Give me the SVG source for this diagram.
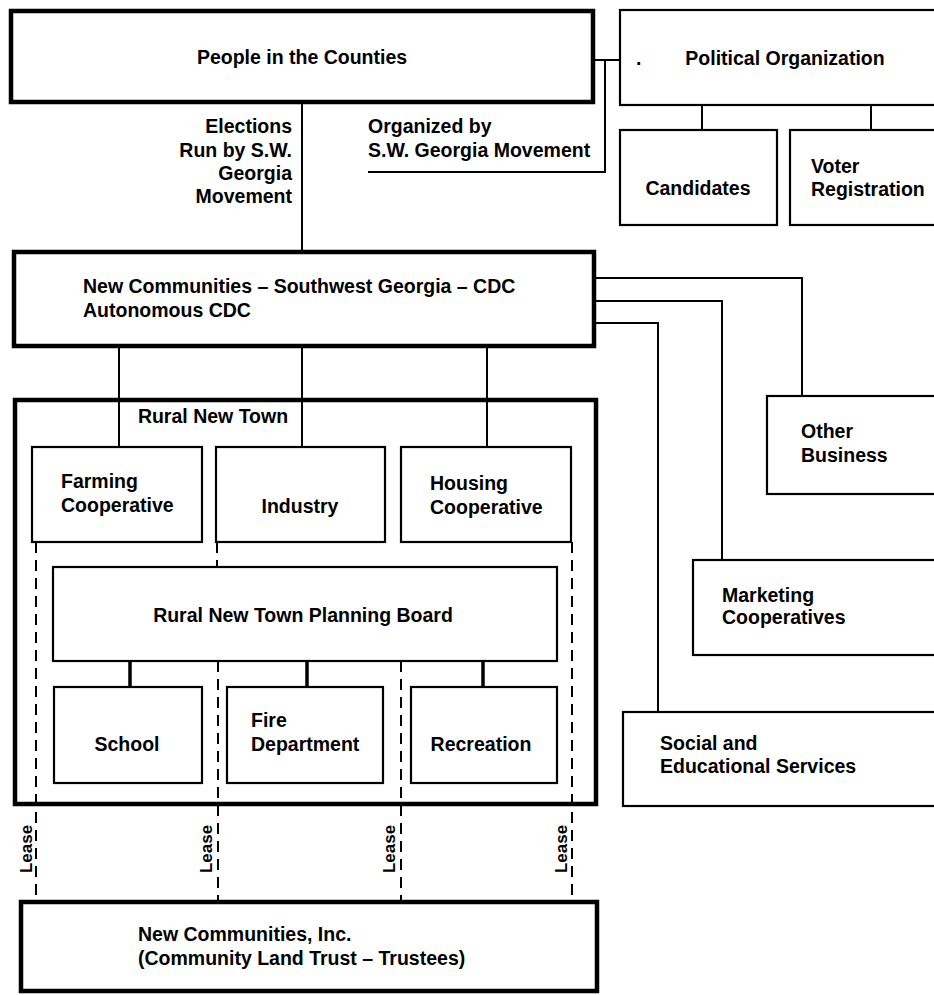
<svg xmlns="http://www.w3.org/2000/svg" width="934" height="995" viewBox="0 0 934 995">
<style>
text { font-family: "Liberation Sans", Arial, sans-serif; font-weight: bold; font-size: 19.5px; fill: #000; }
.thick { fill: #fff; stroke: #000; stroke-width: 4.5; }
.outline { fill: none; stroke: #000; stroke-width: 4.5; }
.thin { fill: #fff; stroke: #000; stroke-width: 2.2; }
.c { fill: none; stroke: #000; stroke-width: 2; }
.c3 { fill: none; stroke: #000; stroke-width: 3.5; }
.dash { fill: none; stroke: #000; stroke-width: 2; stroke-dasharray: 11 7; }
.mid { text-anchor: middle; }
.end { text-anchor: end; }
.lease { font-size: 17px; }
</style>
<rect x="0" y="0" width="934" height="995" fill="#fff"/>

<g id="connectors">
  <path class="c" d="M593,60 H620"/>
  <path class="c" d="M605,60 V172 H368"/>
  <path class="c" d="M702,105 V130"/>
  <path class="c" d="M871,105 V130"/>
  <path class="c" d="M302,102 V252"/>
  <path class="c" d="M594,278 H802 V396"/>
  <path class="c" d="M594,301 H722 V560"/>
  <path class="c" d="M594,323 H658 V712"/>
  <path class="c" d="M119,346 V447"/>
  <path class="c" d="M302,346 V447"/>
  <path class="c" d="M487,346 V447"/>
  <path class="c3" d="M130,661 V687"/>
  <path class="c3" d="M307,661 V687"/>
  <path class="c3" d="M483,661 V687"/>
  <path class="dash" d="M36,542 V902"/>
  <path class="dash" d="M217,542 V567"/>
  <path class="dash" d="M218,661 V902"/>
  <path class="dash" d="M401,661 V902"/>
  <path class="dash" d="M572,542 V902"/>
  <text class="lease" transform="translate(32,849) rotate(-90)" text-anchor="middle">Lease</text>
  <text class="lease" transform="translate(212,849) rotate(-90)" text-anchor="middle">Lease</text>
  <text class="lease" transform="translate(395,849) rotate(-90)" text-anchor="middle">Lease</text>
  <text class="lease" transform="translate(567,849) rotate(-90)" text-anchor="middle">Lease</text>
  <text class="end" x="292" y="133">Elections</text>
  <text class="end" x="292" y="157">Run by S.W.</text>
  <text class="end" x="292" y="180">Georgia</text>
  <text class="end" x="292" y="203">Movement</text>
  <text x="368" y="133">Organized by</text>
  <text x="368" y="157">S.W. Georgia Movement</text>
</g>

<g id="people">
  <rect class="thick" x="11" y="11" width="582" height="91"/>
  <text class="mid" x="302" y="64">People in the Counties</text>
</g>

<g id="political">
  <rect class="thin" x="620" y="10" width="330" height="95"/>
  <text x="636" y="65">.</text>
  <text class="mid" x="785" y="65">Political Organization</text>
</g>

<g id="candidates">
  <rect class="thin" x="620" y="130" width="157" height="95"/>
  <text class="mid" x="698" y="195">Candidates</text>
</g>

<g id="voter">
  <rect class="thin" x="790" y="130" width="160" height="95"/>
  <text x="811" y="173">Voter</text>
  <text x="811" y="196">Registration</text>
</g>

<g id="cdc">
  <rect class="thick" x="14" y="252" width="580" height="94"/>
  <text x="83" y="293">New Communities – Southwest Georgia – CDC</text>
  <text x="83" y="317">Autonomous CDC</text>
</g>

<g id="rural-new-town">
  <rect class="outline" x="15" y="400" width="581" height="404"/>
  <text class="mid" x="213" y="423">Rural New Town</text>
</g>

<g id="farming">
  <rect class="thin" x="32" y="447" width="170" height="95"/>
  <text x="61" y="488">Farming</text>
  <text x="61" y="512">Cooperative</text>
</g>

<g id="industry">
  <rect class="thin" x="216" y="447" width="169" height="95"/>
  <text class="mid" x="300" y="513">Industry</text>
</g>

<g id="housing">
  <rect class="thin" x="401" y="447" width="170" height="95"/>
  <text x="430" y="490">Housing</text>
  <text x="430" y="514">Cooperative</text>
</g>

<g id="planning-board">
  <rect class="thin" x="53" y="567" width="504" height="94"/>
  <text class="mid" x="303" y="622">Rural New Town Planning Board</text>
</g>

<g id="school">
  <rect class="thin" x="54" y="687" width="148" height="96"/>
  <text class="mid" x="127" y="751">School</text>
</g>

<g id="fire">
  <rect class="thin" x="227" y="687" width="156" height="96"/>
  <text x="251" y="727">Fire</text>
  <text x="251" y="751">Department</text>
</g>

<g id="recreation">
  <rect class="thin" x="411" y="687" width="146" height="96"/>
  <text class="mid" x="481" y="751">Recreation</text>
</g>

<g id="other-business">
  <rect class="thin" x="767" y="396" width="180" height="98"/>
  <text x="801" y="438">Other</text>
  <text x="801" y="462">Business</text>
</g>

<g id="marketing">
  <rect class="thin" x="693" y="560" width="250" height="95"/>
  <text x="722" y="602">Marketing</text>
  <text x="722" y="624">Cooperatives</text>
</g>

<g id="social">
  <rect class="thin" x="623" y="712" width="320" height="94"/>
  <text x="660" y="750">Social and</text>
  <text x="660" y="773">Educational Services</text>
</g>

<g id="new-communities-inc">
  <rect class="thick" x="21" y="902" width="576" height="89"/>
  <text x="138" y="941">New Communities, Inc.</text>
  <text x="138" y="965">(Community Land Trust – Trustees)</text>
</g>
</svg>
